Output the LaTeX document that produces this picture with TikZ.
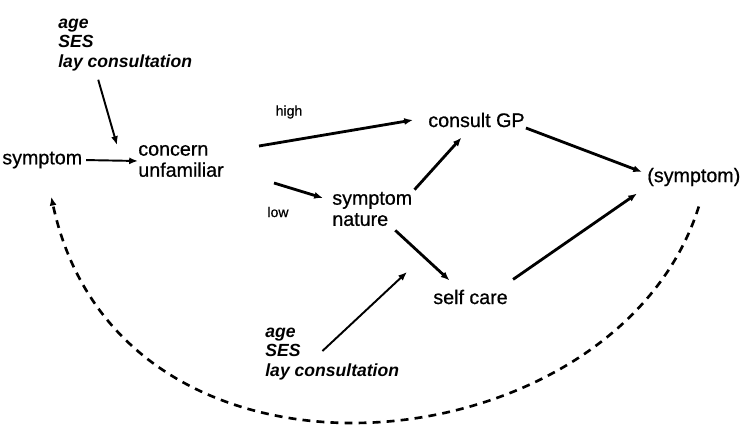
\documentclass[tikz,border=0pt]{standalone}
\usepackage{fontspec}
\setmainfont{Liberation Sans}
\newfontfamily\stagefont{Liberation Sans}[FakeBold=0.7]
\usetikzlibrary{positioning,calc,arrows.meta}

\begin{document}
\begin{tikzpicture}[
    x=0.02cm, y=-0.02cm,
    stage/.style={inner sep=0pt, anchor=west, align=left, font=\stagefont\fontsize{11.2}{12}\selectfont},
    factor/.style={inner sep=0pt, anchor=west, align=left, font=\fontsize{10}{11.3}\selectfont\bfseries\itshape},
    cue/.style={inner sep=0pt, font=\stagefont\fontsize{8}{9}\selectfont},
    link/.style={line width=1.6pt, -{Latex[length=5pt,width=4pt]}},
    thinlink/.style={line width=1.1pt, -{Latex[length=5pt,width=4pt]}},
    recur/.style={line width=1.5pt, dash pattern=on 4.5pt off 3.5pt, -{Latex[length=5pt,width=4pt]}},
]
\useasboundingbox (0,0) rectangle (748,442);
% stages
\node[stage] (sym)     at (2,160)   {symptom};
\node[stage] (concern) at (138,161) {concern\\unfamiliar};
\node[stage] (nat)     at (332,209) {symptom\\nature};
\node[stage] (gp)      at (428,120) {consult GP};
\node[stage] (sym2)    at (647,177) {(symptom)};
\node[stage] (self)    at (433,297) {self care};
% modifying factors
\node[factor] (topf) at (58,45)  {age\\SES\\lay consultation};
\node[factor] (botf) at (265,354) {age\\SES\\lay consultation};
\node[cue] (high) at (289,112) {high};
\node[cue] (low)  at (278,212) {low};
% arrows
\draw[thinlink, shorten <=2pt] (sym.east) -- (concern.west);
\draw[thinlink] ($(topf.south)+(-27,8)$) -- ($(concern.west)+(-21,-16)$);
\draw[link] ($(concern.east)+(35,-15)$) -- ($(gp.west)+(-15,0)$);
\draw[link] ($(concern.east)+(50,22)$) -- ($(nat.west)+(-9,-11)$);
\draw[link] ($(nat.north east)+(2,-2)$) -- ($(gp.south)+(-15,10)$);
\draw[link] ($(gp.east)+(1,8)$) -- ($(sym2.west)+(-5,-5)$);
\draw[link] ($(nat.south)+(23,4)$) -- ($(self.north)+(-21,-9)$);
\draw[link] ($(self.north east)+(5,-10)$) -- ($(sym2.south west)+(-10,7)$);
\draw[thinlink] ($(botf.east)+(-77,-3)$) -- ($(self.west)+(-26,-25)$);
\draw[recur] ($(sym2.south)+(5,20)$) .. controls (616,470) and (120,520) .. ($(sym.south)+(9,28)$);
\end{tikzpicture}
\end{document}
